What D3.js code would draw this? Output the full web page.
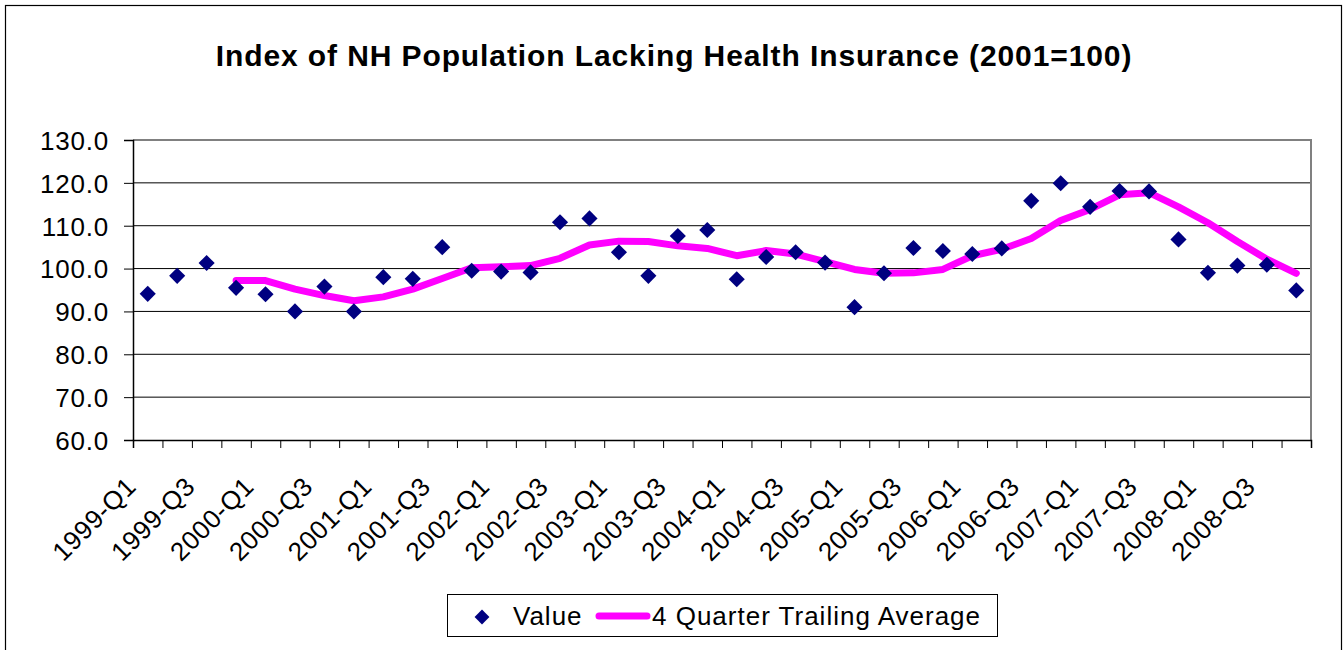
<!DOCTYPE html>
<html>
<head>
<meta charset="utf-8">
<script src="https://cdn.jsdelivr.net/npm/d3@7"></script>
<style>
  body { margin: 0; background: #fff; }
  text { font-family: Arial, "Liberation Sans", sans-serif; fill: #000; }
</style>
</head>
<body>
<script>
// quarters on the x axis
var quarters = ["1999-Q1","1999-Q2","1999-Q3","1999-Q4",
  "2000-Q1","2000-Q2","2000-Q3","2000-Q4",
  "2001-Q1","2001-Q2","2001-Q3","2001-Q4",
  "2002-Q1","2002-Q2","2002-Q3","2002-Q4",
  "2003-Q1","2003-Q2","2003-Q3","2003-Q4",
  "2004-Q1","2004-Q2","2004-Q3","2004-Q4",
  "2005-Q1","2005-Q2","2005-Q3","2005-Q4",
  "2006-Q1","2006-Q2","2006-Q3","2006-Q4",
  "2007-Q1","2007-Q2","2007-Q3","2007-Q4",
  "2008-Q1","2008-Q2","2008-Q3","2008-Q4"];

// index values (2001=100)
var values = [94.1, 98.3, 101.3, 95.5, 94.0, 90.0, 95.8, 90.0,
  98.0, 97.6, 105.0, 99.5, 99.3, 99.1, 110.8, 111.7,
  103.8, 98.3, 107.6, 109.0, 97.5, 102.7, 103.8, 101.4,
  91.0, 98.9, 104.8, 104.1, 103.4, 104.7, 115.8, 119.9,
  114.4, 118.1, 118.0, 106.8, 99.0, 100.7, 100.9, 94.9];

// 4 quarter trailing average (starts at 4th quarter)
var trailing = [null, null, null, 97.2, 97.2, 95.2, 93.7, 92.5,
  93.4, 95.2, 97.7, 100.2, 100.4, 100.7, 102.4, 105.5,
  106.4, 106.3, 105.3, 104.7, 103.0, 104.2, 103.4, 101.6,
  99.8, 98.9, 99.0, 99.8, 103.0, 104.5, 107.0, 111.2,
  113.8, 117.2, 117.7, 114.4, 110.7, 106.3, 102.2, 98.9];

var yTicks = [60, 70, 80, 90, 100, 110, 120, 130];

var W = 1343, H = 650;
var plot = {left: 133, right: 1311, top: 140, bottom: 440};

var svg = d3.select('body').append('svg')
    .attr('width', W)
    .attr('height', H)

// outer chart border
svg.append('rect')
    .attr('x', 5.5).attr('y', 5.5)
    .attr('width', 1336).attr('height', 700)
    .attr('fill', 'none')
    .attr('stroke', '#000')
    .attr('stroke-width', 1.2)

// title
svg.append('text')
    .attr('x', 674)
    .attr('y', 66)
    .attr('text-anchor', 'middle')
    .style('font-size', '30px')
    .style('font-weight', 'bold')
    .style('letter-spacing', '0.9px')
    .text('Index of NH Population Lacking Health Insurance (2001=100)')

var x = d3.scaleBand().domain(quarters).range([plot.left, plot.right])
var xEdge = d3.scaleLinear().domain([0, quarters.length]).range([plot.left, plot.right])
var y = d3.scaleLinear().domain([60, 130]).range([plot.bottom, plot.top])
var cx = function (q) { return x(q) + x.bandwidth() / 2 }

// gridlines
svg.append('g')
  .selectAll('line')
    .data(yTicks.slice(1, -1))
    .enter()
  .append('line')
    .attr('x1', plot.left).attr('x2', plot.right)
    .attr('y1', function (d) { return y(d) })
    .attr('y2', function (d) { return y(d) })
    .attr('stroke', '#000')
    .attr('stroke-width', 1)

// plot area frame (top and right in grey)
svg.append('path')
    .attr('d', 'M' + plot.left + ',' + y(130) + 'H' + plot.right + 'V' + y(60))
    .attr('fill', 'none')
    .attr('stroke', '#808080')
    .attr('stroke-width', 2)

// y axis
var yAxis = d3.axisLeft(y)
    .tickValues(yTicks)
    .tickSize(9)
    .tickPadding(15)
    .tickFormat(d3.format('.1f'))
var gy = svg.append('g')
    .attr('transform', 'translate(' + plot.left + ',0)')
    .call(yAxis)
gy.select('.domain').attr('stroke', '#000').attr('stroke-width', 1.5)
gy.selectAll('.tick line').attr('stroke', '#000')
gy.selectAll('.tick text')
    .style('font-size', '26px')
    .style('letter-spacing', '0.8px')
    .style('font-family', 'Arial, "Liberation Sans", sans-serif')
    .attr('dy', '0.36em')

// x axis: ticks at category edges
var xAxis = d3.axisBottom(xEdge)
    .tickValues(d3.range(quarters.length + 1))
    .tickSize(8)
    .tickFormat('')
var gx = svg.append('g')
    .attr('transform', 'translate(0,' + plot.bottom + ')')
    .call(xAxis)
gx.select('.domain').attr('stroke', '#000').attr('stroke-width', 1.5)
gx.selectAll('.tick line').attr('stroke', '#000')

// x labels, every second quarter, rotated
svg.append('g')
  .selectAll('text')
    .data(quarters.filter(function (d, i) { return i % 2 === 0 }))
    .enter()
  .append('text')
    .attr('transform', function (d) { return 'translate(' + (cx(d) - 10) + ',' + 488 + ') rotate(-45)' })
    .attr('text-anchor', 'end')
    .style('font-size', '26px')
    .style('letter-spacing', '0.6px')
    .text(function (d) { return d })

// trailing average line
var line = d3.line()
    .defined(function (d) { return d != null })
    .x(function (d, i) { return cx(quarters[i]) })
    .y(function (d) { return y(d) })
svg.append('path')
    .datum(trailing)
    .attr('d', line)
    .attr('fill', 'none')
    .attr('stroke', '#ff00ff')
    .attr('stroke-width', 7)
    .attr('stroke-linejoin', 'round')
    .attr('stroke-linecap', 'round')

// value markers (diamonds)
var diamond = d3.symbol().type(d3.symbolSquare).size(130)
svg.append('g')
  .selectAll('path')
    .data(values)
    .enter()
  .append('path')
    .attr('d', diamond)
    .attr('transform', function (d, i) { return 'translate(' + cx(quarters[i]) + ',' + y(d) + ') rotate(45)' })
    .attr('fill', '#000080')

// legend
var lg = svg.append('g')
lg.append('rect')
    .attr('x', 447.5).attr('y', 594.5)
    .attr('width', 550).attr('height', 42)
    .attr('fill', '#fff')
    .attr('stroke', '#000')
    .attr('stroke-width', 1)
lg.append('path')
    .attr('d', d3.symbol().type(d3.symbolSquare).size(110))
    .attr('transform', 'translate(482,617) rotate(45)')
    .attr('fill', '#000080')
lg.append('text')
    .attr('x', 513).attr('y', 625)
    .style('font-size', '26px')
    .style('letter-spacing', '1px')
    .text('Value')
lg.append('line')
    .attr('x1', 599).attr('x2', 647)
    .attr('y1', 616).attr('y2', 616)
    .attr('stroke', '#ff00ff')
    .attr('stroke-width', 7)
    .attr('stroke-linecap', 'round')
lg.append('text')
    .attr('x', 652).attr('y', 625)
    .style('font-size', '26px')
    .style('letter-spacing', '1px')
    .text('4 Quarter Trailing Average')
</script>
</body>
</html>
